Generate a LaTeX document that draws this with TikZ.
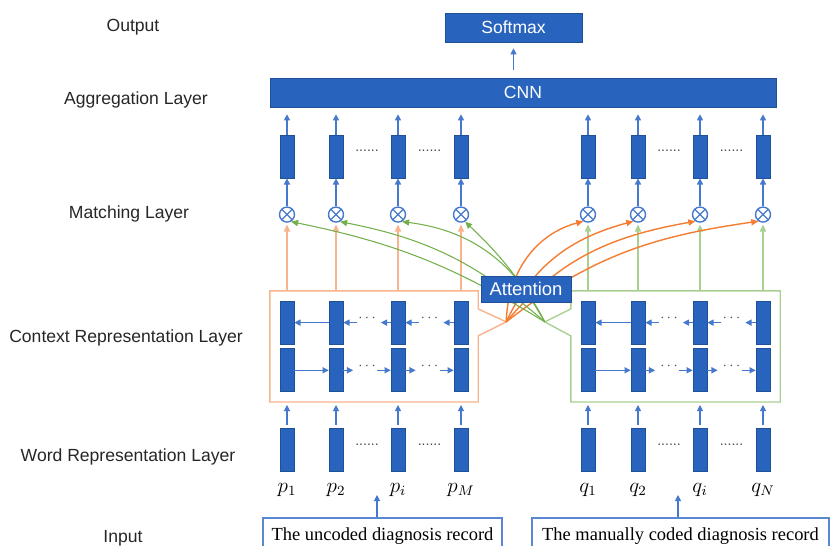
\documentclass[tikz,border=0pt]{standalone}
\usepackage{fontspec}
\setmainfont{Liberation Sans}
\newfontfamily\recfont{Liberation Serif}
\usepackage{xcolor}
\usepackage{tikz}
\usetikzlibrary{positioning, fit, calc, arrows.meta}

\definecolor{barblue}{RGB}{40,100,190}
\definecolor{linkblue}{RGB}{70,120,205}
\definecolor{recblue}{RGB}{90,135,210}
\definecolor{ctxorange}{RGB}{248,180,140}
\definecolor{attorange}{RGB}{244,125,50}
\definecolor{ctxgreen}{RGB}{170,208,145}
\definecolor{attgreen}{RGB}{115,175,75}

\begin{document}
\begin{tikzpicture}[
    x=0.02cm, y=0.02cm,
    bar/.style={rectangle, draw=barblue!80!black, fill=barblue, minimum width=0.28cm, minimum height=0.86cm, inner sep=0pt},
    block/.style={rectangle, draw=barblue!80!black, fill=barblue, text=white, inner sep=0pt},
    match/.style={circle, draw=linkblue, line width=0.8pt, minimum size=0.3cm, inner sep=0pt,
        path picture={\draw[linkblue, line width=0.7pt] (path picture bounding box.north west) -- (path picture bounding box.south east) (path picture bounding box.south west) -- (path picture bounding box.north east);}},
    layername/.style={text=black!85},
    wordname/.style={font=\large},
    gapdots/.style={inner sep=0pt, minimum width=0.4cm, font=\footnotesize, text=black!70},
    recordbox/.style={rectangle, draw=recblue, line width=0.8pt, minimum height=0.72cm, inner sep=0pt, font=\recfont\fontsize{10.5}{12}\selectfont},
    flow/.style={-{Triangle[length=3.5pt, width=3.5pt]}, linkblue, line width=0.6pt},
    pline/.style={-{Triangle[length=4pt, width=3.5pt]}, ctxorange, line width=0.7pt},
    qline/.style={-{Triangle[length=4pt, width=3.5pt]}, ctxgreen, line width=0.7pt},
    pcurve/.style={-{Triangle[length=4pt, width=3.5pt]}, attorange, line width=0.8pt},
    qcurve/.style={-{Triangle[length=4pt, width=3.5pt]}, attgreen, line width=0.6pt},
    pframe/.style={ctxorange, line width=0.8pt},
    qframe/.style={ctxgreen, line width=0.8pt}
]

% Canvas
\path[use as bounding box] (0,0) rectangle (832,546);
\clip (0,0) rectangle (832,546);

% Layer names
\node[layername] (tout) at (133,519) {Output};
\node[layername] (tagg) at (136,446) {Aggregation Layer};
\node[layername] (tmat) at (129,332) {Matching Layer};
\node[layername] (tctx) at (126,208) {Context Representation Layer};
\node[layername] (tword) at (128,89) {Word Representation Layer};
\node[layername] (tin) at (123,8) {Input};

% Word representation
\node[bar] (pw1) at (287,96) {};
\node[bar] (pw2) at (336,96) {};
\node[bar] (pw3) at (398,96) {};
\node[bar] (pw4) at (461,96) {};
\node[bar] (qw1) at (588,96) {};
\node[bar] (qw2) at (638,96) {};
\node[bar] (qw3) at (700,96) {};
\node[bar] (qw4) at (763,96) {};
\node[wordname, below=0.1cm of pw1] (pl1) {$p_1$};
\node[wordname, below=0.1cm of pw2] (pl2) {$p_2$};
\node[wordname, below=0.1cm of pw3] (pl3) {$p_i$};
\node[wordname, below=0.1cm of pw4] (pl4) {$p_M$};
\node[wordname, below=0.1cm of qw1] (ql1) {$q_1$};
\node[wordname, below=0.1cm of qw2] (ql2) {$q_2$};
\node[wordname, below=0.1cm of qw3] (ql3) {$q_i$};
\node[wordname, below=0.1cm of qw4] (ql4) {$q_N$};
\node[gapdots, yshift=0.1cm] (pwd1) at ($(pw2)!0.5!(pw3)$) {......};
\node[gapdots, yshift=0.1cm] (pwd2) at ($(pw3)!0.5!(pw4)$) {......};
\node[gapdots, yshift=0.1cm] (qwd1) at ($(qw2)!0.5!(qw3)$) {......};
\node[gapdots, yshift=0.1cm] (qwd2) at ($(qw3)!0.5!(qw4)$) {......};

% Context representation: forward row
\node[bar, above=0.72cm of pw1] (pf1) {};
\node[bar, above=0.72cm of pw2] (pf2) {};
\node[bar, above=0.72cm of pw3] (pf3) {};
\node[bar, above=0.72cm of pw4] (pf4) {};
\node[bar, above=0.72cm of qw1] (qf1) {};
\node[bar, above=0.72cm of qw2] (qf2) {};
\node[bar, above=0.72cm of qw3] (qf3) {};
\node[bar, above=0.72cm of qw4] (qf4) {};

% Context representation: backward row
\node[bar, above=0.08cm of pf1] (pb1) {};
\node[bar, above=0.08cm of pf2] (pb2) {};
\node[bar, above=0.08cm of pf3] (pb3) {};
\node[bar, above=0.08cm of pf4] (pb4) {};
\node[bar, above=0.08cm of qf1] (qb1) {};
\node[bar, above=0.08cm of qf2] (qb2) {};
\node[bar, above=0.08cm of qf3] (qb3) {};
\node[bar, above=0.08cm of qf4] (qb4) {};

\node[gapdots, yshift=0.08cm] (pfd1) at ($(pf2)!0.5!(pf3)$) {$\cdots$};
\node[gapdots, yshift=0.08cm] (pfd2) at ($(pf3)!0.5!(pf4)$) {$\cdots$};
\node[gapdots, yshift=0.08cm] (pbd1) at ($(pb2)!0.5!(pb3)$) {$\cdots$};
\node[gapdots, yshift=0.08cm] (pbd2) at ($(pb3)!0.5!(pb4)$) {$\cdots$};
\node[gapdots, yshift=0.08cm] (qfd1) at ($(qf2)!0.5!(qf3)$) {$\cdots$};
\node[gapdots, yshift=0.08cm] (qfd2) at ($(qf3)!0.5!(qf4)$) {$\cdots$};
\node[gapdots, yshift=0.08cm] (qbd1) at ($(qb2)!0.5!(qb3)$) {$\cdots$};
\node[gapdots, yshift=0.08cm] (qbd2) at ($(qb3)!0.5!(qb4)$) {$\cdots$};

% Matching layer
\node[match, above=1.56cm of pb1] (pm1) {};
\node[match, above=1.56cm of pb2] (pm2) {};
\node[match, above=1.56cm of pb3] (pm3) {};
\node[match, above=1.56cm of pb4] (pm4) {};
\node[match, above=1.56cm of qb1] (qm1) {};
\node[match, above=1.56cm of qb2] (qm2) {};
\node[match, above=1.56cm of qb3] (qm3) {};
\node[match, above=1.56cm of qb4] (qm4) {};

% Aggregation layer
\node[bar, above=0.56cm of pm1] (pa1) {};
\node[bar, above=0.56cm of pm2] (pa2) {};
\node[bar, above=0.56cm of pm3] (pa3) {};
\node[bar, above=0.56cm of pm4] (pa4) {};
\node[bar, above=0.56cm of qm1] (qa1) {};
\node[bar, above=0.56cm of qm2] (qa2) {};
\node[bar, above=0.56cm of qm3] (qa3) {};
\node[bar, above=0.56cm of qm4] (qa4) {};
\node[gapdots, yshift=0.11cm] (pad1) at ($(pa2)!0.5!(pa3)$) {......};
\node[gapdots, yshift=0.11cm] (pad2) at ($(pa3)!0.5!(pa4)$) {......};
\node[gapdots, yshift=0.11cm] (qad1) at ($(qa2)!0.5!(qa3)$) {......};
\node[gapdots, yshift=0.11cm] (qad2) at ($(qa3)!0.5!(qa4)$) {......};

\node[block, minimum width=10.12cm, minimum height=0.58cm] (cnn) at (523,453.5) {CNN};
\node[block, minimum width=2.74cm, minimum height=0.58cm] (softmax) at (513.5,518.5) {Softmax};

% Input records
\node[recordbox, minimum width=4.78cm] (pin) at (382.5,10) {The uncoded diagnosis record};
\node[recordbox, minimum width=5.94cm] (qin) at (680.5,10) {The manually coded diagnosis record};
\coordinate (pinup) at (377,51);
\coordinate (qinup) at (678,51);
\draw[flow] (pinup |- pin.north) -- (pinup);
\draw[flow] (qinup |- qin.north) -- (qinup);

% Context frames with callout tips
\node[fit=(pb1)(pf4), inner sep=0.19cm] (pbox) {};
\node[fit=(qb1)(qf4), inner sep=0.19cm] (qbox) {};
\coordinate (ptip) at ([xshift=0.56cm, yshift=-0.62cm]pbox.north east);
\coordinate (qtip) at ([xshift=-0.52cm, yshift=-0.62cm]qbox.north west);
\draw[pframe] (pbox.north west) -- (pbox.north east) -- ([yshift=-0.36cm]pbox.north east) -- (ptip) -- ([yshift=-0.9cm]pbox.north east) -- (pbox.south east) -- (pbox.south west) -- cycle;
\draw[qframe] (qbox.north east) -- (qbox.north west) -- ([yshift=-0.36cm]qbox.north west) -- (qtip) -- ([yshift=-0.9cm]qbox.north west) -- (qbox.south west) -- (qbox.south east) -- cycle;

% Word to context
\draw[flow, shorten <=0.06cm, shorten >=0.06cm] (pw1.north) -- (pw1 |- pbox.south);
\draw[flow, shorten <=0.06cm, shorten >=0.06cm] (pw2.north) -- (pw2 |- pbox.south);
\draw[flow, shorten <=0.06cm, shorten >=0.06cm] (pw3.north) -- (pw3 |- pbox.south);
\draw[flow, shorten <=0.06cm, shorten >=0.06cm] (pw4.north) -- (pw4 |- pbox.south);
\draw[flow, shorten <=0.06cm, shorten >=0.06cm] (qw1.north) -- (qw1 |- qbox.south);
\draw[flow, shorten <=0.06cm, shorten >=0.06cm] (qw2.north) -- (qw2 |- qbox.south);
\draw[flow, shorten <=0.06cm, shorten >=0.06cm] (qw3.north) -- (qw3 |- qbox.south);
\draw[flow, shorten <=0.06cm, shorten >=0.06cm] (qw4.north) -- (qw4 |- qbox.south);

% Forward and backward links
\draw[flow] (pf1) -- (pf2);
\draw[flow, shorten >=2pt] (pf2) -- (pf2 -| pfd1.west);
\draw[flow] (pfd1.east |- pf3) -- (pf3);
\draw[flow, shorten >=2pt] (pf3) -- (pf3 -| pfd2.west);
\draw[flow] (pfd2.east |- pf4) -- (pf4);
\draw[flow] (pb2) -- (pb1);
\draw[flow] (pbd1.west |- pb2) -- (pb2);
\draw[flow, shorten >=2pt] (pb3) -- (pb3 -| pbd1.east);
\draw[flow] (pbd2.west |- pb3) -- (pb3);
\draw[flow, shorten >=2pt] (pb4) -- (pb4 -| pbd2.east);
\draw[flow] (qf1) -- (qf2);
\draw[flow, shorten >=2pt] (qf2) -- (qf2 -| qfd1.west);
\draw[flow] (qfd1.east |- qf3) -- (qf3);
\draw[flow, shorten >=2pt] (qf3) -- (qf3 -| qfd2.west);
\draw[flow] (qfd2.east |- qf4) -- (qf4);
\draw[flow] (qb2) -- (qb1);
\draw[flow] (qbd1.west |- qb2) -- (qb2);
\draw[flow, shorten >=2pt] (qb3) -- (qb3 -| qbd1.east);
\draw[flow] (qbd2.west |- qb3) -- (qb3);
\draw[flow, shorten >=2pt] (qb4) -- (qb4 -| qbd2.east);

% Context to matching
\draw[pline, shorten >=1pt] (pm1 |- pbox.north) -- (pm1);
\draw[pline, shorten >=1pt] (pm2 |- pbox.north) -- (pm2);
\draw[pline, shorten >=1pt] (pm3 |- pbox.north) -- (pm3);
\draw[pline, shorten >=1pt] (pm4 |- pbox.north) -- (pm4);
\draw[qline, shorten >=1pt] (qm1 |- qbox.north) -- (qm1);
\draw[qline, shorten >=1pt] (qm2 |- qbox.north) -- (qm2);
\draw[qline, shorten >=1pt] (qm3 |- qbox.north) -- (qm3);
\draw[qline, shorten >=1pt] (qm4 |- qbox.north) -- (qm4);

% Attention links
\draw[pcurve] (ptip) to[out=88, in=195] (qm1.235);
\draw[pcurve] (ptip) to[out=65, in=195] (qm2.235);
\draw[pcurve] (ptip) to[out=50, in=190] (qm3.235);
\draw[pcurve] (ptip) to[out=38, in=188] (qm4.235);
\draw[qcurve] (qtip) to[bend right=10] (pm1.300);
\draw[qcurve] (qtip) to[bend right=15] (pm2.300);
\draw[qcurve] (qtip) to[bend right=28] (pm3.300);
\draw[qcurve] (qtip) to[bend right=8] (pm4.300);
\node[block, minimum width=1.8cm, minimum height=0.52cm, font=\fontsize{10.5}{12}\selectfont] (att) at (526,257) {Attention};

% Matching to aggregation
\draw[flow] (pm1) -- (pa1);
\draw[flow] (pm2) -- (pa2);
\draw[flow] (pm3) -- (pa3);
\draw[flow] (pm4) -- (pa4);
\draw[flow] (qm1) -- (qa1);
\draw[flow] (qm2) -- (qa2);
\draw[flow] (qm3) -- (qa3);
\draw[flow] (qm4) -- (qa4);

% Aggregation to output
\draw[flow, shorten >=0.14cm] (pa1) -- (pa1 |- cnn.south);
\draw[flow, shorten >=0.14cm] (pa2) -- (pa2 |- cnn.south);
\draw[flow, shorten >=0.14cm] (pa3) -- (pa3 |- cnn.south);
\draw[flow, shorten >=0.14cm] (pa4) -- (pa4 |- cnn.south);
\draw[flow, shorten >=0.14cm] (qa1) -- (qa1 |- cnn.south);
\draw[flow, shorten >=0.14cm] (qa2) -- (qa2 |- cnn.south);
\draw[flow, shorten >=0.14cm] (qa3) -- (qa3 |- cnn.south);
\draw[flow, shorten >=0.14cm] (qa4) -- (qa4 |- cnn.south);
\draw[flow, shorten <=0.16cm, shorten >=0.12cm] (cnn.north -| softmax) -- (softmax);

\end{tikzpicture}
\end{document}
